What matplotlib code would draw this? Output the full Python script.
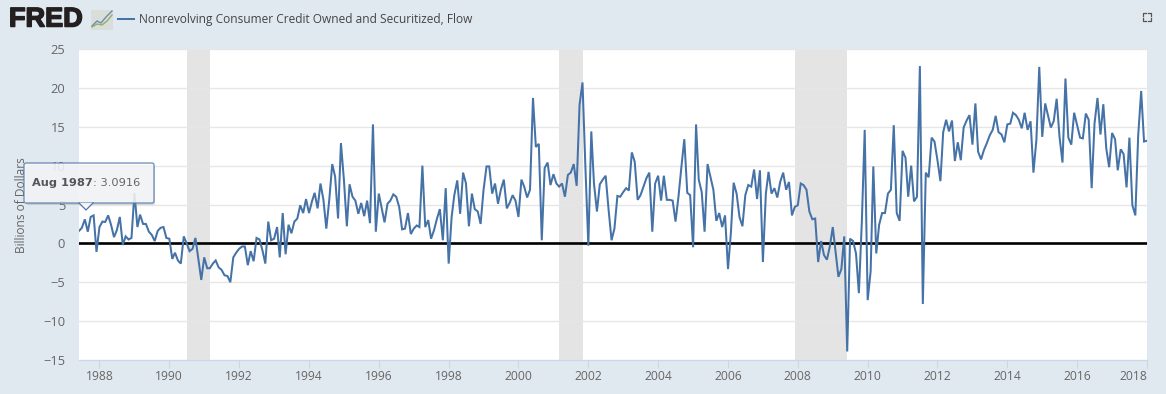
import numpy as np
import pandas as pd
import matplotlib
matplotlib.use("Agg")
import matplotlib.pyplot as plt
import matplotlib.patheffects as pe
from matplotlib.patches import FancyBboxPatch, Polygon, Rectangle
from matplotlib.lines import Line2D

W, H = 1166, 394
values = [
 1.6,2.0,3.09,1.5,3.4,3.6,-1.1,2.1,2.8,2.75,3.6,2.4,0.8,1.7,3.4,-0.2,0.9,0.5,0.7,6.5,
 2.1,3.7,2.5,2.5,1.5,1.1,0.3,1.6,2.0,2.1,0.7,0.6,-2.0,-1.2,-2.2,-2.6,0.9,0.0,-1.0,-0.7,
 0.7,-2.0,-4.7,-1.8,-3.2,-3.2,-2.6,-2.2,-3.1,-3.4,-4.1,-4.2,-5.0,-1.8,-1.2,-0.7,-0.4,-0.4,-2.8,-1.0,
 -2.3,0.7,0.5,-0.9,-2.6,2.8,0.4,0.6,2.1,-1.8,3.9,-1.4,2.4,1.3,2.8,3.2,4.9,3.9,5.7,3.9,
 5.4,6.5,4.5,7.7,5.6,1.9,5.6,10.2,8.6,3.2,12.9,8.2,2.2,7.6,6.0,5.5,3.8,5.2,3.5,5.5,
 2.6,15.3,1.5,6.4,4.5,2.7,5.1,5.5,6.3,6.0,4.7,1.8,1.9,3.9,1.2,1.9,2.3,2.1,10.0,2.1,
 3.0,0.6,1.7,3.2,4.4,0.4,7.1,-2.6,3.4,6.2,8.1,3.8,9.1,7.7,2.2,6.4,4.4,4.1,2.5,6.9,
 9.9,9.9,6.4,7.7,5.1,6.9,8.2,4.5,5.2,6.2,5.5,3.4,8.2,7.3,5.9,6.9,18.7,12.4,12.8,0.4,
 9.7,10.4,7.5,8.9,7.7,7.3,7.7,6.0,8.8,9.1,10.2,7.4,17.8,20.7,9.9,-0.3,14.4,7.7,4.1,7.6,
 8.2,8.7,4.3,0.4,1.9,6.1,6.0,6.6,7.1,6.8,11.7,10.5,5.6,6.2,7.3,8.4,9.1,1.5,7.7,8.7,
 5.5,8.7,5.6,5.6,5.5,2.8,6.0,9.9,13.4,6.5,6.2,-0.5,15.3,8.2,6.6,1.5,10.2,8.6,6.9,2.9,
 3.9,2.1,3.6,-3.3,1.5,7.8,6.4,3.4,2.2,6.2,7.5,7.3,9.5,5.7,9.4,-2.4,6.4,9.2,6.4,7.1,
 5.9,7.9,9.1,6.9,7.9,3.6,4.7,4.9,7.7,7.5,6.9,4.1,3.1,3.2,-2.4,0.3,-1.5,-2.1,-0.4,2.1,
 -1.3,-4.3,-3.3,0.9,-13.9,0.6,0.3,-1.3,-6.4,2.8,14.6,-7.3,-3.6,9.9,-1.3,2.4,3.9,3.9,6.4,6.9,
 15.2,3.9,2.9,11.9,11.0,6.0,10.0,5.4,6.0,22.8,-7.8,9.1,8.5,13.6,13.1,10.7,8.0,14.3,15.9,14.4,
 15.8,10.6,13.0,10.7,14.9,15.8,16.5,12.7,18.0,11.8,10.8,12.0,12.9,13.9,14.6,16.4,14.3,14.0,13.0,15.3,
 15.4,16.8,16.5,15.9,14.8,16.8,14.6,15.7,9.1,13.3,22.7,13.7,18.0,16.5,14.9,15.7,18.6,13.7,10.4,21.2,
 13.6,12.7,16.8,15.2,13.6,13.5,16.7,15.9,7.1,15.4,18.7,14.0,17.9,12.2,9.8,14.2,13.4,9.4,12.1,11.5,
 7.2,13.6,4.9,3.6,13.9,19.6,13.1,13.2,
]
start_month = "1987-06-01"
dates = pd.date_range(start_month, periods=len(values), freq="MS")
recessions = [("1990-07-01", "1991-03-01"), ("2001-03-01", "2001-11-01"), ("2007-12-01", "2009-06-01")]
yticks = [-15, -10, -5, 0, 5, 10, 15, 20, 25]
xtick_years = list(range(1988, 2019, 2))
series_name = "Nonrevolving Consumer Credit Owned and Securitized, Flow"
y_label = "Billions of Dollars"
tip_date, tip_value = "Aug 1987", "3.0916"

BG = "#e1e9f0"
LINE = "#4572a7"
TXT = "#666666"
plt.rcParams["font.family"] = ["Open Sans", "DejaVu Sans"]

fig = plt.figure(figsize=(W/100, H/100), dpi=100, facecolor=BG)
L, R, T, B = 79, 1147, 49, 360
ax = fig.add_axes([L/W, 1-B/H, (R-L)/W, (B-T)/H], facecolor="white")
ax.set_ylim(-15, 25)
ax.set_xlim(dates[0], pd.Timestamp("2018-01-01"))
for a, b in recessions:
    ax.axvspan(pd.Timestamp(a), pd.Timestamp(b), color="#e4e4e4", lw=0, zorder=1.5)
ax.grid(axis="y", color="#e6e6e6", lw=1, zorder=1)
ax.axhline(0, color="black", lw=1.9, zorder=2)
ax.plot(dates, values, color=LINE, lw=1.45, zorder=3, solid_joinstyle="miter")
ax.set_yticks(yticks)
ax.set_xticks([pd.Timestamp(f"{y}-01-01") for y in xtick_years])
ax.set_xticklabels([str(y) for y in xtick_years])
ax.tick_params(axis="y", length=0, labelsize=9.3, labelcolor=TXT, pad=10)
ax.tick_params(axis="x", length=6, width=0.8, color="#ccd6eb", labelsize=8.7, labelcolor=TXT, pad=1, direction="out")
ax.get_xticklabels()[-1].set_ha("right")
for s in ["top", "left", "right"]:
    ax.spines[s].set_visible(False)
ax.spines["bottom"].set_color("#ccd6eb")
ax.spines["bottom"].set_linewidth(0.8)

def fx(px): return px/W
def fy(py): return 1-py/H

fig.text(fx(22), fy(205), y_label, rotation=90, ha="center", va="center", fontsize=8.6, color=TXT)

# Header
fig.text(fx(9), fy(19.5), "FRED", family=["Liberation Sans"], fontsize=19.5, weight="bold", color="#231f20",
         ha="left", va="center",
         path_effects=[pe.withStroke(linewidth=1.1, foreground="#231f20")])
fig.patches.append(Rectangle((fx(91), fy(30)), 22/W, 20/H, transform=fig.transFigure, fc="#d9dedb", ec="none"))
fig.lines.append(Line2D([fx(p) for p in (92, 97, 101, 106, 112)], [fy(p) for p in (26, 21, 23, 17, 11)],
                        transform=fig.transFigure, color="#6f8ba3", lw=1.0))
fig.lines.append(Line2D([fx(p) for p in (92, 97, 102, 107, 112)], [fy(p) for p in (27, 24, 25, 21, 15)],
                        transform=fig.transFigure, color="#93ad70", lw=1.0))
fig.lines.append(Line2D([fx(118), fx(134)], [fy(19), fy(19)], transform=fig.transFigure, color=LINE, lw=1.45))
fig.text(fx(139), fy(19.5), series_name, fontsize=8.55, color="#444444", ha="left", va="center")

# Fullscreen icon
for cx, cy, dx, dy in [(1143, 13, 1, 1), (1151, 13, -1, 1), (1143, 21, 1, -1), (1151, 21, -1, -1)]:
    fig.lines.append(Line2D([fx(cx+3*dx), fx(cx), fx(cx)], [fy(cy), fy(cy), fy(cy+3*dy)],
                            transform=fig.transFigure, color="#555555", lw=0.9))

# Tooltip
tip_over = fig.add_axes([0, 0, 1, 1], facecolor="none", zorder=5)
tip_over.set_xlim(0, W); tip_over.set_ylim(H, 0); tip_over.axis("off")
tip_over.add_patch(FancyBboxPatch((26, 165), 129, 40, boxstyle="round,pad=0,rounding_size=2",
                                  fc="#7f8a96", ec="none", alpha=0.3))
tip_over.add_patch(FancyBboxPatch((24, 163), 130, 40, boxstyle="round,pad=0,rounding_size=2",
                                  fc="#f7f8fa", ec="#4f77a8", lw=0.9, alpha=0.85))
tip_over.add_patch(Polygon([(79, 203), (86, 210), (93, 203)], closed=True, fc="#f7f8fa", ec="none", alpha=0.9))
tip_over.add_line(Line2D([79, 86, 93], [203, 210, 203], color="#4f77a8", lw=0.9))
t = tip_over.text(32, 183, tip_date, family=["DejaVu Sans"], fontsize=8.2, weight="bold", color="#555555", ha="left", va="center")
fig.canvas.draw()
bb = t.get_window_extent()
tip_over.text(bb.x1, 183, ": " + tip_value, family=["DejaVu Sans"], fontsize=8.2, color="#666666", ha="left", va="center")

fig.savefig("out.png", dpi=100, facecolor=BG)
